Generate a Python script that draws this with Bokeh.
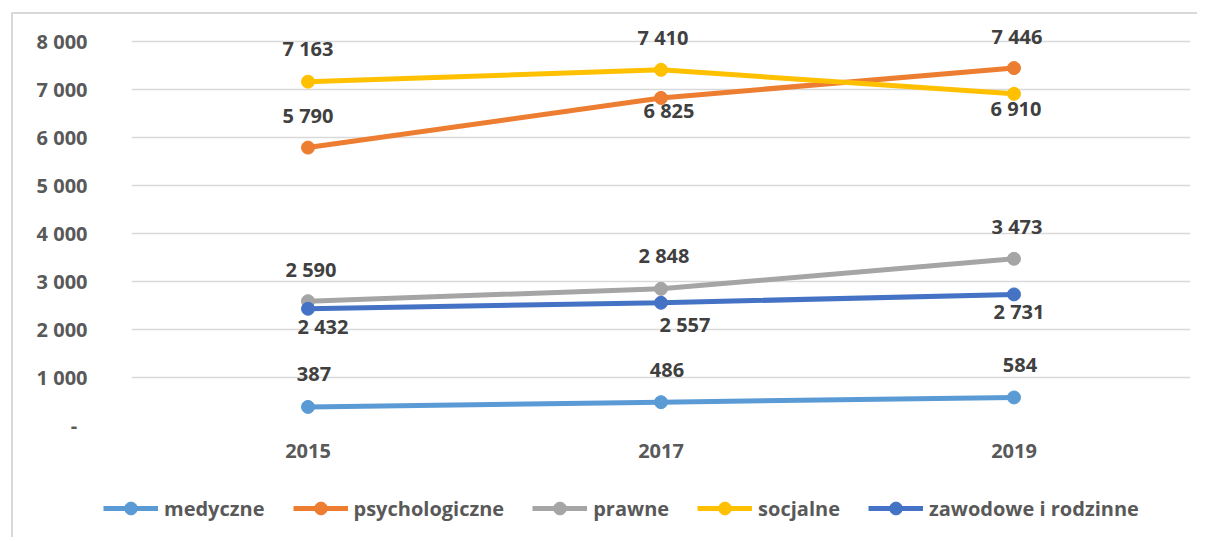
from bokeh.plotting import figure
from bokeh.models import FactorRange, Range1d, FixedTicker, Legend, LegendItem, ColumnDataSource
from bokeh.core.properties import value
from bokeh.embed import file_html
from bokeh.resources import INLINE

years = ["2015", "2017", "2019"]
series_names = ["medyczne", "psychologiczne", "prawne", "socjalne", "zawodowe i rodzinne"]
medyczne = [387, 486, 584]
psychologiczne = [5790, 6825, 7446]
prawne = [2590, 2848, 3473]
socjalne = [7163, 7410, 6910]
zawodowe = [2432, 2557, 2731]
y_ticks = [0, 1000, 2000, 3000, 4000, 5000, 6000, 7000, 8000]

colors = ["#5B9BD5", "#ED7D31", "#A5A5A5", "#FFC000", "#4472C4"]
# label offsets in screen pixels (dx, dy), dy positive = down
label_dx = [[6, 6, 6], [0, 8, 3], [3, 3, 3], [0, 2, 2], [15, 24, 5]]
label_dy = [[-33, -32, -32], [-32, 13, -32], [-32, -33, -32], [-33, -32, 15], [18, 22, 17]]

FONT = "Open Sans"
BORDER = "2px solid #d9d9d9"

p = figure(
    x_range=FactorRange(factors=years, range_padding=0),
    y_range=Range1d(0, 8500),
    width=1186, height=480,
    output_backend="svg", toolbar_location=None,
    min_border_left=118, min_border_right=9, min_border_top=3, min_border_bottom=69,
)
p.styles = {"border-left": BORDER, "border-top": BORDER,
            "margin-left": "11px", "margin-top": "12px"}
p.outline_line_color = None
p.background_fill_color = "white"
p.border_fill_color = "white"

p.xgrid.grid_line_color = None
p.ygrid.grid_line_color = "#d9d9d9"
p.ygrid.grid_line_width = 1.5
p.yaxis.ticker = FixedTicker(ticks=y_ticks)
p.yaxis.major_label_overrides = {t: ("-\u00a0\u00a0" if t == 0 else f"{t:,}".replace(",", " ")) for t in y_ticks}

for ax in (p.xaxis, p.yaxis):
    ax.axis_line_color = None
    ax.major_tick_line_color = None
    ax.minor_tick_line_color = None
    ax.major_tick_out = 0
    ax.major_tick_in = 0
    ax.major_label_text_font = FONT
    ax.major_label_text_font_style = "bold"
    ax.major_label_text_font_size = "20px"
    ax.major_label_text_color = "#595959"
p.yaxis.major_label_standoff = 44
p.xaxis.major_label_standoff = 18

# legend strip (separate root, same data sources, data lies outside its y range)
lf = figure(width=1186, height=45, x_range=p.x_range, y_range=Range1d(-3, -2),
            x_axis_type=None, y_axis_type=None, output_backend="svg", toolbar_location=None,
            min_border_left=0, min_border_right=0, min_border_top=0, min_border_bottom=0)
lf.styles = {"border-left": BORDER, "margin-left": "11px"}
lf.outline_line_color = None
lf.grid.grid_line_color = None
lf.border_fill_color = "white"
lf.background_fill_color = "white"

all_series = [medyczne, psychologiczne, prawne, socjalne, zawodowe]
items = []
for i, vals in enumerate(all_series):
    src = ColumnDataSource(dict(x=years, y=vals))
    p.line("x", "y", source=src, line_color=colors[i], line_width=5)
    p.scatter("x", "y", source=src, size=13, fill_color=colors[i], line_color=colors[i])
    ln = lf.line("x", "y", source=src, line_color=colors[i], line_width=5)
    sc = lf.scatter("x", "y", source=src, size=13, fill_color=colors[i], line_color=colors[i])
    items.append(LegendItem(label=series_names[i], renderers=[ln, sc]))

for i, vals in enumerate(all_series):
    src = ColumnDataSource(dict(
        x=years, y=vals,
        lbl=[f"{v:,}".replace(",", " ") for v in vals],
        dx=label_dx[i], dy=label_dy[i],
    ))
    p.text("x", "y", text="lbl", source=src, x_offset="dx", y_offset="dy",
           text_align="center", text_baseline="middle",
           text_font=value(FONT), text_font_style="bold", text_font_size="20px",
           text_color="#404040")

legend = Legend(items=items, orientation="horizontal", location=(90, 13),
                glyph_width=55, glyph_height=32, label_standoff=6, spacing=28,
                padding=0, margin=0, border_line_color=None, background_fill_alpha=0,
                label_text_font=FONT, label_text_font_style="bold",
                label_text_font_size="20px", label_text_color="#595959",
                label_text_baseline="middle")
lf.add_layout(legend)

open("out.html", "w").write(file_html([p, lf], INLINE))
